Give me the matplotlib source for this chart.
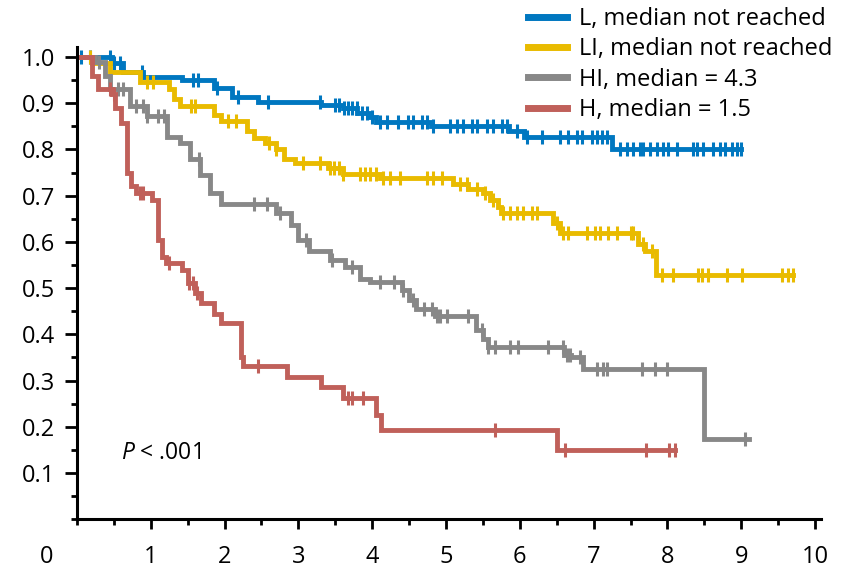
import numpy as np
import matplotlib.pyplot as plt
from matplotlib.ticker import MultipleLocator

plt.rcParams['font.family'] = ['Open Sans', 'DejaVu Sans']
plt.rcParams['mathtext.fontset'] = 'custom'
plt.rcParams['mathtext.it'] = 'Open Sans:italic'
plt.rcParams['mathtext.rm'] = 'Open Sans'

# step times / survival for each group
l_t = [0, 0.47, 0.62, 0.9, 1.42, 1.85, 2.1, 2.45, 3.3, 3.6, 3.8, 3.95, 4.05, 4.8, 5.85, 6.05, 7.25, 9.0]
l_s = [1.0, 0.987, 0.968, 0.957, 0.95, 0.932, 0.914, 0.903, 0.897, 0.89, 0.88, 0.87, 0.86, 0.85, 0.84, 0.827, 0.80, 0.80]
l_cens = [0.05, 0.18, 0.45, 0.5, 0.58, 0.88, 1.57, 1.64, 1.9, 2.18, 2.59, 3.29, 3.5, 3.55, 3.62, 3.67,
          3.73, 3.79, 3.86, 3.93, 4.0, 4.1, 4.2, 4.35, 4.48, 4.55, 4.67, 4.74, 4.82, 5.05, 5.15, 5.23,
          5.35, 5.42, 5.56, 5.64, 5.76, 5.83, 5.96, 6.1, 6.3, 6.55, 6.65, 6.77, 6.84, 6.98, 7.04, 7.11,
          7.18, 7.36, 7.45, 7.53, 7.63, 7.67, 7.76, 7.86, 7.94, 8.01, 8.13, 8.35, 8.4, 8.48, 8.62, 8.71,
          8.78, 8.87, 8.94, 9.0]

li_t = [0, 0.2, 0.45, 0.85, 1.25, 1.32, 1.4, 1.85, 1.95, 2.3, 2.4, 2.55, 2.7, 2.8, 2.95, 3.4, 3.6, 4.1,
        5.1, 5.3, 5.5, 5.6, 5.7, 5.75, 6.45, 6.55, 7.6, 7.7, 7.85, 9.7]
li_s = [1.0, 0.987, 0.968, 0.945, 0.93, 0.91, 0.895, 0.875, 0.862, 0.84, 0.825, 0.815, 0.80, 0.78, 0.77,
        0.76, 0.748, 0.738, 0.725, 0.715, 0.705, 0.69, 0.675, 0.662, 0.64, 0.62, 0.595, 0.58, 0.528, 0.528]
li_cens = [0.18, 0.45, 0.95, 1.03, 1.55, 1.6, 2.05, 2.15, 2.6, 2.7, 3.06, 3.29, 3.43, 3.48, 3.55, 3.6,
           3.83, 3.9, 3.97, 4.05, 4.15, 4.24, 4.38, 4.74, 4.83, 4.95, 5.19, 5.28, 5.42, 5.53, 5.64, 5.77,
           5.87, 5.96, 6.04, 6.16, 6.23, 6.5, 6.58, 6.65, 6.91, 7.02, 7.09, 7.2, 7.32, 7.5, 7.53, 7.67,
           7.79, 7.93, 8.08, 8.41, 8.47, 8.55, 8.81, 9.01, 9.55, 9.63, 9.7]

hi_t = [0, 0.25, 0.38, 0.45, 0.72, 0.95, 1.22, 1.4, 1.53, 1.67, 1.8, 1.95, 2.7, 2.9, 3.0, 3.15, 3.43,
        3.63, 3.83, 3.97, 4.4, 4.5, 4.6, 4.85, 5.4, 5.5, 5.57, 6.6, 6.7, 6.85, 8.5, 9.1]
hi_s = [1.0, 0.99, 0.96, 0.93, 0.895, 0.872, 0.826, 0.813, 0.78, 0.745, 0.705, 0.683, 0.662, 0.636,
        0.604, 0.58, 0.56, 0.546, 0.52, 0.513, 0.495, 0.475, 0.455, 0.44, 0.41, 0.39, 0.373, 0.355,
        0.35, 0.324, 0.173, 0.173]
hi_cens = [0.3, 0.55, 0.62, 0.8, 0.9, 0.95, 1.1, 1.18, 1.65, 2.4, 2.58, 2.75, 3.1, 3.45, 3.73, 4.1,
           4.3, 4.42, 4.55, 4.7, 4.81, 4.88, 4.92, 5.01, 5.3, 5.49, 5.57, 5.66, 5.87, 5.98, 6.38, 6.59,
           6.64, 6.68, 6.82, 7.05, 7.13, 7.18, 7.66, 7.83, 7.99, 9.05]

h_t = [0, 0.2, 0.28, 0.47, 0.52, 0.6, 0.68, 0.73, 0.8, 1.02, 1.1, 1.15, 1.2, 1.42, 1.5, 1.6, 1.68,
       1.85, 1.95, 2.22, 2.25, 2.85, 3.3, 3.6, 4.05, 4.12, 6.5, 8.1]
h_s = [1.0, 0.96, 0.93, 0.92, 0.89, 0.857, 0.75, 0.72, 0.705, 0.69, 0.604, 0.567, 0.554, 0.54, 0.51,
       0.49, 0.467, 0.445, 0.424, 0.35, 0.331, 0.308, 0.286, 0.262, 0.225, 0.193, 0.15, 0.15]
h_cens = [0.45, 0.5, 0.85, 0.9, 1.25, 1.52, 1.57, 1.62, 2.45, 3.67, 3.72, 3.88, 5.66, 6.61, 7.71, 8.02, 8.1]

labels = ['L, median not reached', 'LI, median not reached', 'HI, median = 4.3', 'H, median = 1.5']
colors = ['#0077c0', '#e9bb00', '#888888', '#c0605a']

groups = [(l_t, l_s, l_cens), (li_t, li_s, li_cens), (hi_t, hi_s, hi_cens), (h_t, h_s, h_cens)]


def surv_at(t, s, x):
    idx = np.searchsorted(t, x, side='right') - 1
    return np.asarray(s)[idx]


fig = plt.figure(figsize=(8.42, 5.72), dpi=100)
ax = fig.add_axes([0.0914, 0.0924, 0.8836, 0.8256])

for (t, s, c), lab, col in zip(groups, labels, colors):
    ax.step(t, s, where='post', color=col, lw=3.5, label=lab, solid_joinstyle='miter')
    ax.plot(c, surv_at(t, s, c), ls='none', marker='|', ms=9.5, mew=2.2, color=col)

ax.set_xlim(0, 10.08)
ax.set_ylim(0, 1.022)
ax.xaxis.set_major_locator(MultipleLocator(1))
ax.xaxis.set_minor_locator(MultipleLocator(0.5))
ax.yaxis.set_major_locator(MultipleLocator(0.1))
ax.yaxis.set_minor_locator(MultipleLocator(0.05))
ax.set_xticks(np.arange(1, 11))
ax.set_yticks(np.arange(1, 11) / 10)
ax.set_yticklabels(['%.1f' % v for v in np.arange(1, 11) / 10])

for side in ['top', 'right']:
    ax.spines[side].set_visible(False)
for side in ['left', 'bottom']:
    ax.spines[side].set_linewidth(2.2)

ax.tick_params(axis='x', which='major', length=7.5, width=2.0, pad=11, labelsize=17)
ax.tick_params(axis='x', which='minor', length=4, width=2.0)
ax.tick_params(axis='y', which='major', length=8.5, width=2.0, pad=7, labelsize=17)
ax.tick_params(axis='y', which='minor', length=4, width=2.0)

# origin label sits off to the left of the corner
ax.annotate('0', xy=(0, 0), xycoords='data', xytext=(-22, -27), textcoords='offset points',
            ha='center', va='center', fontsize=17)

ax.text(0.6, 0.143, r'$P$ < .001', fontsize=16.5, va='center', ha='left')

leg = fig.legend(loc='upper left', bbox_to_anchor=(0.627, 0.988), frameon=False, fontsize=17,
                 handlelength=1.65, handletextpad=0.5, labelspacing=0.27, borderpad=0, borderaxespad=0)
for h in leg.legend_handles:
    h.set_linewidth(5)

fig.savefig('out.png', dpi=100)
